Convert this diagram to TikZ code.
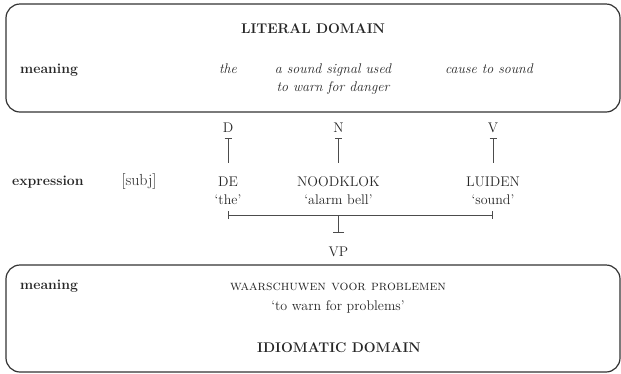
\documentclass[tikz,border=0pt]{standalone}
\usetikzlibrary{arrows.meta}

\newcommand{\diafont}{\fontsize{14}{18}\selectfont}

\tikzstyle{domainbox} = [draw=black!80, line width=1.2pt, rounded corners=14pt]
\tikzstyle{txt} = [anchor=base, inner sep=2pt, text=black!85, font=\diafont]
\tikzstyle{domaintitle} = [txt, font=\diafont\bfseries]
\tikzstyle{rowname} = [txt, anchor=base west, font=\diafont\bfseries]
\tikzstyle{gloss} = [txt, font=\diafont\itshape]
\tikzstyle{tee} = [draw=black!70, line width=0.8pt, {Bar[width=7pt]}-, shorten <=3.3pt, shorten >=11.4pt]
\tikzstyle{spanline} = [draw=black!70, line width=0.8pt, {Bar[width=8pt]}-{Bar[width=8pt]}]
\tikzstyle{vpstem} = [draw=black!70, line width=0.8pt, -{Bar[width=11pt]}, shorten >=11.7pt]

\begin{document}
\begin{tikzpicture}[x=1pt, y=-1pt]
    \useasboundingbox (0,0) rectangle (621,373);

    % the two domains
    \draw[domainbox] (6,4) rectangle (620,112);
    \draw[domainbox] (6,265) rectangle (620,372);

    % literal domain
    \node (littitle) [domaintitle] at (313,33.6) {LITERAL DOMAIN};
    \node (litmeaning) [rowname] at (18,73) {meaning};
    \node (gthe) [gloss] at (228,73) {the};
    \node (gbell) [gloss] at (333,73) {a sound signal used};
    \node (gbell2) [gloss] at (333,91) {to warn for danger};
    \node (gsound) [gloss] at (489,73) {cause to sound};

    % categories
    \node (D) [txt] at (228,132.7) {D};
    \node (N) [txt] at (338.5,132.7) {N};
    \node (V) [txt] at (493,132.7) {V};

    % expression row
    \node (expr) [rowname] at (10,185) {expression};
    \node (subj) [txt, font=\fontsize{16}{18}\selectfont] at (139,185) {[subj]};
    \node (de) [txt] at (228,186) {DE};
    \node (dethe) [txt] at (228,204.5) {`the'};
    \node (noodklok) [txt] at (338.5,186) {NOODKLOK};
    \node (noodbell) [txt] at (338.5,204.5) {`alarm bell'};
    \node (luiden) [txt] at (493,186) {LUIDEN};
    \node (luidsound) [txt] at (493,204.5) {`sound'};

    \draw[tee] (D) -- (de);
    \draw[tee] (N) -- (noodklok);
    \draw[tee] (V) -- (luiden);

    % VP
    \coordinate (spanL) at (228,215);
    \coordinate (spanM) at (338.5,215);
    \coordinate (spanR) at (493,215);
    \node (vp) [txt] at (338.5,256) {VP};
    \draw[spanline] (spanL) -- (spanR);
    \draw[vpstem] (spanM) -- (vp);

    % idiomatic domain
    \node (idmeaning) [rowname] at (18,289) {meaning};
    \node (idform) [txt] at (338,290) {\textsc{waarschuwen voor problemen}};
    \node (idgloss) [txt] at (338,310) {`to warn for problems'};
    \node (idtitle) [domaintitle] at (339,352.5) {IDIOMATIC DOMAIN};
\end{tikzpicture}
\end{document}
